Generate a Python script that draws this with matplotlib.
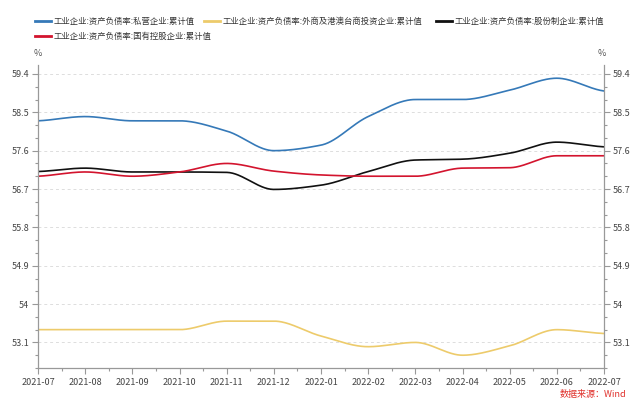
import numpy as np
import matplotlib
matplotlib.use("Agg")
import matplotlib.pyplot as plt
from matplotlib.lines import Line2D
from matplotlib.ticker import MultipleLocator, FixedLocator, FuncFormatter

plt.rcParams['font.family'] = ['Noto Sans CJK SC', 'DejaVu Sans']

months = ["2021-07", "2021-08", "2021-09", "2021-10", "2021-11", "2021-12",
          "2022-01", "2022-02", "2022-03", "2022-04", "2022-05", "2022-06", "2022-07"]

private = [58.30, 58.40, 58.30, 58.30, 58.06, 57.60, 57.73, 58.40, 58.80, 58.80, 59.02, 59.30, 59.00]
foreign = [53.40, 53.40, 53.40, 53.40, 53.60, 53.60, 53.25, 53.00, 53.10, 52.80, 53.02, 53.40, 53.31]
shareholding = [57.11, 57.19, 57.10, 57.10, 57.09, 56.69, 56.79, 57.11, 57.38, 57.40, 57.54, 57.80, 57.69]
state_owned = [57.00, 57.10, 57.00, 57.10, 57.30, 57.12, 57.03, 57.00, 57.00, 57.19, 57.20, 57.48, 57.48]

labels = ["工业企业:资产负债率:私营企业:累计值",
          "工业企业:资产负债率:外商及港澳台商投资企业:累计值",
          "工业企业:资产负债率:股份制企业:累计值",
          "工业企业:资产负债率:国有控股企业:累计值"]
colors = ["#3579B8", "#EDCB6B", "#111111", "#D3142E"]
yticks = [53.1, 54.0, 54.9, 55.8, 56.7, 57.6, 58.5, 59.4]


def pchip(x, y, xs):
    x = np.asarray(x, float); y = np.asarray(y, float)
    h = np.diff(x); d = np.diff(y) / h
    n = len(x)
    m = np.zeros(n)
    for k in range(1, n - 1):
        if d[k - 1] * d[k] <= 0:
            m[k] = 0.0
        else:
            w1 = 2 * h[k] + h[k - 1]
            w2 = h[k] + 2 * h[k - 1]
            m[k] = (w1 + w2) / (w1 / d[k - 1] + w2 / d[k])
    m[0] = d[0] * 0.5
    m[-1] = d[-1] * 0.5
    idx = np.clip(np.searchsorted(x, xs) - 1, 0, n - 2)
    t = (xs - x[idx]) / h[idx]
    h00 = 2 * t**3 - 3 * t**2 + 1
    h10 = t**3 - 2 * t**2 + t
    h01 = -2 * t**3 + 3 * t**2
    h11 = t**3 - t**2
    return h00 * y[idx] + h10 * h[idx] * m[idx] + h01 * y[idx + 1] + h11 * h[idx] * m[idx + 1]


fig = plt.figure(figsize=(6.41, 4.08), dpi=100)
ax = fig.add_axes([38 / 641, 1 - 368 / 408, (604 - 38) / 641, (368 - 65) / 408])

x = np.arange(len(months))
xs = np.linspace(0, len(months) - 1, 600)
series = [private, foreign, shareholding, state_owned]
handles = []
for s, c in zip(series, colors):
    ax.plot(xs, pchip(x, s, xs), color=c, lw=1.2, solid_capstyle='round')
    handles.append(Line2D([0], [0], color=c, lw=2.0))

ax.set_xlim(0, len(months) - 1)
ax.set_ylim(52.5, 59.61)

ax.set_xticks(x)
ax.set_xticklabels(months)
ax.xaxis.set_minor_locator(FixedLocator(x[:-1] + 0.5))
ax.set_yticks(yticks)
ax.yaxis.set_minor_locator(MultipleLocator(0.3))
ax.yaxis.set_major_formatter(FuncFormatter(lambda v, p: ("%g" % round(v, 1))))

ax.grid(axis='y', which='major', color='#DDDDDD', ls=(0, (3, 3)), lw=0.7)
ax.set_axisbelow(True)

for side in ['left', 'right', 'bottom']:
    ax.spines[side].set_color('#999999')
    ax.spines[side].set_linewidth(0.9)
ax.spines['top'].set_visible(False)

ax.tick_params(axis='both', which='major', length=4.5, width=0.8, color='#999999',
               labelsize=6.5, labelcolor='#444444', pad=2)
ax.tick_params(axis='both', which='minor', length=2.5, width=0.8, color='#999999')
ax.tick_params(axis='y', which='both', left=True, right=True, labelleft=True, labelright=True)
ax.tick_params(axis='x', which='major', pad=3)

fig.text(38 / 641, 1 - 54 / 408, "%", ha='center', va='center', fontsize=6.5, color='#555555')
fig.text(602 / 641, 1 - 54 / 408, "%", ha='center', va='center', fontsize=6.5, color='#555555')

# flow-style legend: each entry placed on its own (pixel anchors)
legend_pos = [(35, 21.7), (204, 21.7), (436, 21.7), (35, 36.7)]
for h, l, (px, py) in zip(handles, labels, legend_pos):
    fig.legend([h], [l], loc='center left', bbox_to_anchor=(px / 641, 1 - py / 408),
               frameon=False, fontsize=6, handlelength=1.9, handletextpad=0.35,
               borderpad=0, borderaxespad=0, labelcolor='#333333')

fig.text(626 / 641, 1 - 394 / 408, "数据来源：Wind", ha='right', va='center', fontsize=6.5,
         color='#E0302B')

fig.savefig("out.png", dpi=100)
